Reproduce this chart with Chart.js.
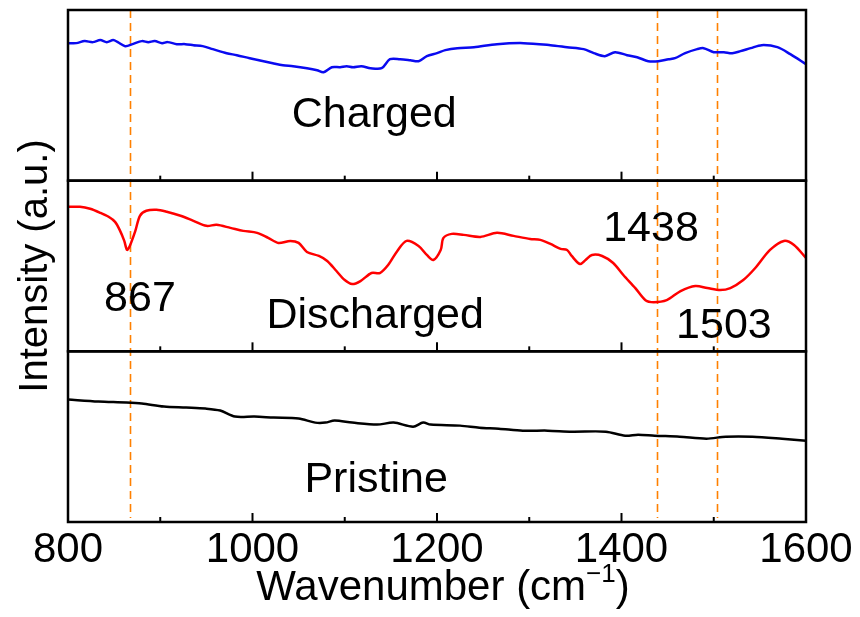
<!DOCTYPE html>
<html>
<head>
<meta charset="utf-8">
<script src="https://cdn.jsdelivr.net/npm/chart.js@4"></script>
<style>
  html, body { margin: 0; padding: 0; background: #fff; }
  canvas { display: block; }
</style>
</head>
<body>
<canvas id="ftir" width="860" height="617"></canvas>
<script>
// FTIR spectra of the electrode in three states, offset into stacked panels
const chargedWn = [800,809,818,827,835,842,849,854,862,870,880,887,894,902,908,918,927,936,946,957,972,983,997,1012,1022,1033,1044,1059,1070,1077,1086,1095,1102,1109,1118,1128,1140,1149,1160,1171,1180,1189,1200,1209,1222,1240,1265,1294,1323,1341,1359,1370,1382,1393,1406,1417,1429,1440,1451,1458,1469,1482,1489,1500,1511,1520,1529,1540,1552,1569,1583,1600];
const chargedInt = [137,137,139,138,140,138,140,138,134,136,139,138,139,137,138,136,136,135,134,131,127,125,122,119,117,115,114,112,110,108,113,113,114,113,114,112,112,121,121,120,119,124,127,130,132,133,136,137,135,133,131,127,124,128,125,123,119,119,121,122,127,131,132,128,128,127,129,132,135,133,126,116];

const dischargedWn = [800,813,824,835,844,851,856,861,864,867,873,878,885,896,907,922,936,950,961,976,990,1005,1017,1028,1041,1050,1059,1072,1081,1091,1100,1108,1117,1129,1138,1147,1157,1167,1180,1189,1196,1204,1207,1216,1229,1247,1265,1283,1301,1312,1323,1334,1341,1346,1355,1361,1368,1379,1391,1402,1415,1426,1435,1449,1464,1480,1493,1507,1518,1532,1545,1561,1576,1587,1600];
const dischargedInt = [144,144,142,138,134,129,121,110,101,105,120,135,140,141,139,135,130,125,126,123,120,118,113,108,110,108,99,95,90,80,71,67,70,78,78,86,100,110,105,96,91,101,113,117,116,114,118,115,112,111,107,102,101,95,87,91,96,95,88,76,63,51,49,51,60,65,63,61,63,71,83,101,110,106,93];

const pristineWn = [800,833,863,880,904,928,949,965,981,1002,1023,1050,1068,1079,1089,1108,1135,1153,1174,1185,1193,1225,1246,1267,1293,1320,1346,1383,1404,1418,1436,1463,1492,1513,1542,1574,1600];
const pristineInt = [122,120,119,118,115,114,113,111,105,105,104,103,99,99,101,99,97,99,95,99,97,96,94,93,91,91,90,90,86,87,86,85,83,85,85,83,81];

// marked bands (cm-1)
const peaks = [867, 1438, 1503];
const xTicks = [800, 1000, 1200, 1400, 1600];

const FONT = "'Liberation Sans', Arial, sans-serif";

function toPoints(wn, vals) {
  return wn.map((w, i) => ({ x: w, y: vals[i] }));
}

function panelAxis(title) {
  return {
    type: 'linear',
    position: 'left',
    stack: 'panels',
    stackWeight: 1,
    min: 0,
    max: 170,
    ticks: { display: false },
    grid: { display: false, drawTicks: false },
    border: { display: false },
    title: title ? {
      display: true,
      text: title,
      color: '#000',
      font: { family: FONT, size: 40 },
      padding: { top: 12, bottom: 0 }
    } : { display: false },
    afterFit: s => { s.width = 68; }
  };
}

// panel frames, inner ticks, band markers and labels
const decorations = {
  id: 'decorations',
  beforeDatasetsDraw(chart) {
    const { ctx, chartArea, scales } = chart;
    ctx.save();
    ctx.strokeStyle = '#ff8000';
    ctx.lineWidth = 1.6;
    ctx.setLineDash([8, 5]);
    peaks.forEach(p => {
      const x = Math.round(scales.x.getPixelForValue(p)) + 0.5;
      ctx.beginPath();
      ctx.moveTo(x, chartArea.top);
      ctx.lineTo(x, chartArea.bottom - 4);
      ctx.stroke();
    });
    ctx.restore();
  },
  afterDatasetsDraw(chart) {
    const { ctx, chartArea, scales } = chart;
    const xs = scales.x;
    const panels = [scales.yTop, scales.yMid, scales.yBot];
    ctx.save();
    ctx.strokeStyle = '#000';
    panels.forEach(s => {
      ctx.lineWidth = 2.5;
      ctx.strokeRect(chartArea.left, s.top, chartArea.right - chartArea.left, s.bottom - s.top);
      ctx.lineWidth = 2;
      for (let v = 900; v < 1600; v += 100) {
        const x = xs.getPixelForValue(v);
        const len = v % 200 === 0 ? 9 : 5;
        ctx.beginPath();
        ctx.moveTo(x, s.bottom);
        ctx.lineTo(x, s.bottom - len);
        ctx.stroke();
      }
    });

    ctx.fillStyle = '#000';
    ctx.textAlign = 'center';
    ctx.textBaseline = 'alphabetic';
    ctx.font = '43px ' + FONT;
    const labels = [
      ['Charged', 1132, 53, scales.yTop],
      ['867', 878, 40, scales.yMid],
      ['Discharged', 1133, 23, scales.yMid],
      ['1438', 1432, 110, scales.yMid],
      ['1503', 1511, 13, scales.yMid],
      ['Pristine', 1134, 30, scales.yBot]
    ];
    labels.forEach(([text, wn, v, ys]) => {
      ctx.fillText(text, xs.getPixelForValue(wn), ys.getPixelForValue(v));
    });

    // x axis title with superscript
    const main = 'Wavenumber (cm';
    const sup = '\u22121';
    ctx.font = '42px ' + FONT;
    const w1 = ctx.measureText(main).width;
    const w3 = ctx.measureText(')').width;
    ctx.font = '26px ' + FONT;
    const w2 = ctx.measureText(sup).width;
    const total = w1 + w2 + w3;
    const x0 = (chartArea.left + chartArea.right) / 2 - total / 2 + 6;
    const base = 600;
    ctx.textAlign = 'left';
    ctx.font = '42px ' + FONT;
    ctx.fillText(main, x0, base);
    ctx.font = '26px ' + FONT;
    ctx.fillText(sup, x0 + w1, base - 18);
    ctx.font = '42px ' + FONT;
    ctx.fillText(')', x0 + w1 + w2, base);
    ctx.restore();
  }
};

new Chart(document.getElementById('ftir'), {
  type: 'line',
  data: {
    datasets: [
      { label: 'Charged', data: toPoints(chargedWn, chargedInt), yAxisID: 'yTop', borderColor: '#0a0af0' },
      { label: 'Discharged', data: toPoints(dischargedWn, dischargedInt), yAxisID: 'yMid', borderColor: '#ff0000' },
      { label: 'Pristine', data: toPoints(pristineWn, pristineInt), yAxisID: 'yBot', borderColor: '#000000' }
    ]
  },
  options: {
    responsive: false,
    animation: false,
    devicePixelRatio: 1,
    layout: { padding: { top: 10, right: 54, left: 0, bottom: 0 } },
    elements: {
      line: { borderWidth: 2.5, tension: 0.3, fill: false },
      point: { radius: 0, hoverRadius: 0 }
    },
    plugins: { legend: { display: false }, tooltip: { enabled: false } },
    scales: {
      x: {
        type: 'linear',
        min: 800,
        max: 1600,
        afterBuildTicks: s => { s.ticks = xTicks.map(v => ({ value: v })); },
        ticks: {
          color: '#000',
          font: { family: FONT, size: 42 },
          padding: 3,
          maxRotation: 0,
          autoSkip: false,
          callback: v => String(v)
        },
        grid: { display: false, drawTicks: false },
        border: { display: false },
        afterFit: s => { s.height = 95; }
      },
      yBot: panelAxis(null),
      yMid: panelAxis('Intensity (a.u.)'),
      yTop: panelAxis(null)
    }
  },
  plugins: [decorations]
});
</script>
</body>
</html>
